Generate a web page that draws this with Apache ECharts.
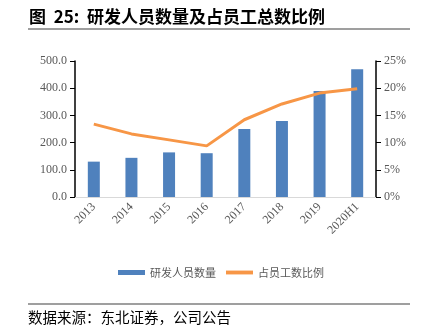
<!DOCTYPE html>
<html><head><meta charset="utf-8">
<script src="https://cdn.jsdelivr.net/npm/echarts@6/dist/echarts.min.js"></script>
<style>html,body{margin:0;padding:0;background:#fff}#c{width:422px;height:334px}</style>
</head><body><div id="c"></div>
<script>
const categories = ['2013','2014','2015','2016','2017','2018','2019','2020H1'];
const staffCount = [130, 144, 164, 161, 250, 279, 390, 470];
const staffRatio = [13.4, 11.6, 10.5, 9.4, 14.2, 17.1, 19.1, 19.9];
const leftTicks = [0, 100, 200, 300, 400, 500];
const rightTicks = [0, 5, 10, 15, 20, 25];

const chart = echarts.init(document.getElementById('c'));
const serif = '"Liberation Serif", "Times New Roman", serif';
const cjk = '"Noto Sans CJK SC", sans-serif';
chart.setOption({
  animation: false,
  grid: { left: 75, right: 46, top: 61, bottom: 137 },
  graphic: [
    { type: 'text', left: 29, top: 8, style: { text: '图  25:  研发人员数量及占员工总数比例', font: 'bold 17px ' + cjk, fill: '#000' } },
    { type: 'line', shape: { x1: 28, y1: 29, x2: 410, y2: 29 }, style: { stroke: '#7f7f7f', lineWidth: 1.5 } },
    { type: 'line', shape: { x1: 28, y1: 304, x2: 410, y2: 304 }, style: { stroke: '#7f7f7f', lineWidth: 1.5 } },
    { type: 'text', left: 28, top: 310, style: { text: '数据来源：东北证券，公司公告', font: '14.5px ' + cjk, fill: '#000' } }
  ],
  legend: {
    left: 113, top: 262, itemGap: 10, itemWidth: 27, itemHeight: 5,
    textStyle: { color: '#595959', fontSize: 11, fontFamily: cjk },
    data: [{ name: '研发人员数量', icon: 'rect' }, { name: '占员工数比例', icon: 'path://M0,0L28,0L28,4L0,4Z' }]
  },
  xAxis: {
    type: 'category', data: categories,
    axisLine: { lineStyle: { color: '#d9d9d9' } },
    axisTick: { show: false },
    axisLabel: { rotate: 45, color: '#595959', fontFamily: serif, fontSize: 12, margin: 8, interval: 0 }
  },
  yAxis: [
    { type: 'value', min: 0, max: 500, interval: 100,
      axisLine: { show: true, lineStyle: { color: '#000', width: 1.5 } },
      axisTick: { show: true, length: 5, lineStyle: { color: '#000' } },
      splitLine: { show: false },
      axisLabel: { color: '#595959', fontFamily: serif, fontSize: 12, formatter: v => v.toFixed(1) } },
    { type: 'value', min: 0, max: 25, interval: 5,
      axisLine: { show: true, lineStyle: { color: '#000', width: 1.5 } },
      axisTick: { show: true, length: 5, lineStyle: { color: '#000' } },
      splitLine: { show: false },
      axisLabel: { color: '#595959', fontFamily: serif, fontSize: 12, formatter: '{value}%' } }
  ],
  series: [
    { name: '研发人员数量', type: 'bar', data: staffCount, barWidth: 12,
      itemStyle: { color: '#4F81BD' } },
    { name: '占员工数比例', type: 'line', yAxisIndex: 1, data: staffRatio,
      symbol: 'none', lineStyle: { color: '#F79646', width: 3 }, itemStyle: { color: '#F79646' } }
  ]
});
</script></body></html>
